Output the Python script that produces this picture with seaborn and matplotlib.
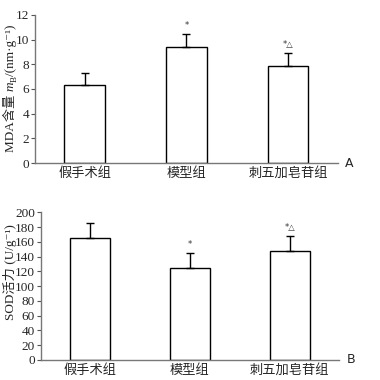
import numpy as np
import pandas as pd
import matplotlib
matplotlib.use("Agg")
import matplotlib.pyplot as plt
import matplotlib.transforms as mtrans
import seaborn as sns

groups = ["假手术组", "模型组", "刺五加皂苷组"]
mda_mean = [6.35, 9.4, 7.85]
mda_sd = [0.95, 1.05, 1.05]
sod_mean = [165, 124, 148]
sod_sd = [20, 21, 20]
mda_marks = ["", "*", "*△"]
sod_marks = ["", "*", "*△"]

sns.set_style("ticks")
FAM = ["Liberation Serif", "Noto Sans CJK SC", "DejaVu Sans"]
plt.rcParams["font.family"] = FAM

fig = plt.figure(figsize=(3.8, 3.8), dpi=100)
ax1 = fig.add_axes([0.092, 0.571, 0.797, 0.390])
ax2 = fig.add_axes([0.107, 0.053, 0.785, 0.388])

def panel(ax, means, sds, marks, ylim, yticks, letter, mark_off):
    df = pd.DataFrame({"g": groups, "v": means})
    sns.barplot(data=df, x="g", y="v", ax=ax, color="white", edgecolor="black",
                linewidth=1.0, width=0.40, errorbar=None)
    pos = np.arange(len(groups))
    ax.errorbar(pos, means, yerr=[np.zeros(len(sds)), sds], fmt="none",
                ecolor="black", elinewidth=1.0, capsize=3, capthick=1.0)
    for p, m, s, t in zip(pos, means, sds, marks):
        if t:
            ax.text(p, m + s + mark_off, t, ha="center", va="bottom", fontsize=6,
                    family=["DejaVu Sans"], color="#333333")
    ax.set_xlim(-0.49, 2.49)
    ax.set_ylim(*ylim)
    ax.set_yticks(yticks)
    ax.set_xlabel("")
    ax.set_ylabel("")
    ax.tick_params(axis="y", labelsize=9.5, length=3, width=0.8, pad=1, color="#555555")
    ax.tick_params(axis="x", labelsize=9.5, length=0, pad=3)
    for s in ["top", "right"]:
        ax.spines[s].set_visible(False)
    for s in ["left", "bottom"]:
        ax.spines[s].set_color("#777777")
        ax.spines[s].set_linewidth(1.0)
    ax.text(1.025, 0.0, letter, transform=ax.transAxes, ha="left", va="center",
            fontsize=9, family=["DejaVu Sans"])

panel(ax1, mda_mean, mda_sd, mda_marks, (0, 12), [0, 2, 4, 6, 8, 10, 12], "A", 0.3)
panel(ax2, sod_mean, sod_sd, sod_marks, (0, 200), list(range(0, 201, 20)), "B", 5)

def composed_ylabel(pieces, x_base, y_center):
    ident = mtrans.IdentityTransform()
    items = []
    for s, kw, dx in pieces:
        t = fig.text(0, 0, s, rotation=90, rotation_mode="anchor", ha="left",
                     va="baseline", transform=ident, family=FAM, **kw)
        items.append((t, dx))
    fig.canvas.draw()
    r = fig.canvas.get_renderer()
    lens = [t.get_window_extent(r).height for t, _ in items]
    y = y_center - sum(lens) / 2
    for (t, dx), L in zip(items, lens):
        t.set_position((x_base + dx, y))
        y += L

composed_ylabel([
    ("MDA含量 ", dict(fontsize=9.5), 0),
    ("m", dict(fontsize=9.5, style="italic"), 0),
    ("B", dict(fontsize=6.5), 2.5),
    ("/(nm·g⁻¹)", dict(fontsize=9.5), 0),
], 14, 292)

composed_ylabel([
    ("SOD活力 (U/g⁻¹)", dict(fontsize=9.5), 0),
], 14, 108)

fig.savefig("out.png", dpi=100)
